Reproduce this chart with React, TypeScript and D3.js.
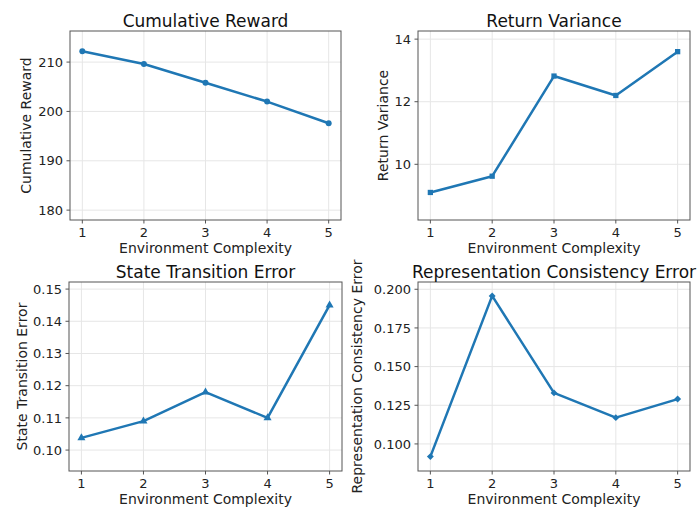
import React from "react";
import * as d3 from "d3";

const complexity = [1, 2, 3, 4, 5];
const cumulativeReward = [212.2, 209.6, 205.8, 202.0, 197.6];
const returnVariance = [9.1, 9.62, 12.82, 12.2, 13.6];
const stateTransitionError = [0.1038, 0.109, 0.118, 0.110, 0.145];
const representationError = [0.0918, 0.1957, 0.133, 0.117, 0.129];

const rewardTicks = [180, 190, 200, 210];
const varianceTicks = [10, 12, 14];
const transitionTicks = [0.1, 0.11, 0.12, 0.13, 0.14, 0.15];
const reprTicks = [0.1, 0.125, 0.15, 0.175, 0.2];

const FONT = "DejaVu Sans, sans-serif";
const BLUE = "#1f77b4";

type PanelProps = {
  left: number; top: number; right: number; bottom: number;
  title: string; ylabel: string; ylabelX: number;
  values: number[]; yDomain: [number, number]; yTicks: number[];
  fmt: (v: number) => string; marker: "circle" | "square" | "triangle" | "diamond";
};

function Panel(p: PanelProps) {
  const x = d3.scaleLinear().domain([0.8, 5.2]).range([p.left, p.right]);
  const y = d3.scaleLinear().domain(p.yDomain).range([p.bottom, p.top]);
  const line = d3.line<number>().x((_, i) => x(complexity[i])).y((v) => y(v));
  const symType =
    p.marker === "circle" ? d3.symbolCircle :
    p.marker === "triangle" ? d3.symbolTriangle : d3.symbolSquare;
  const sym = d3.symbol().type(symType).size(p.marker === "diamond" ? 24 : 28)();
  const rot = p.marker === "diamond" ? " rotate(45)" : "";
  const cx = (p.left + p.right) / 2;
  const cy = (p.top + p.bottom) / 2;
  return (
    <g>
      {complexity.map((c) => (
        <line key={"gx" + c} x1={x(c)} x2={x(c)} y1={p.top} y2={p.bottom} stroke="#e6e6e6" strokeWidth={1} />
      ))}
      {p.yTicks.map((t) => (
        <line key={"gy" + t} x1={p.left} x2={p.right} y1={y(t)} y2={y(t)} stroke="#e6e6e6" strokeWidth={1} />
      ))}
      <path d={line(p.values) || ""} fill="none" stroke={BLUE} strokeWidth={2.5} strokeLinejoin="round" />
      {p.values.map((v, i) => (
        <path key={"m" + i} d={sym || ""} transform={`translate(${x(complexity[i])},${y(v)})${rot}`} fill={BLUE} />
      ))}
      <rect x={p.left} y={p.top} width={p.right - p.left} height={p.bottom - p.top} fill="none" stroke="#555" strokeWidth={1} />
      {complexity.map((c) => (
        <g key={"tx" + c}>
          <line x1={x(c)} x2={x(c)} y1={p.bottom} y2={p.bottom + 3.5} stroke="#555" />
          <text x={x(c)} y={p.bottom + 17} textAnchor="middle" fontSize={13} fontFamily={FONT} fill="#222">{c}</text>
        </g>
      ))}
      {p.yTicks.map((t) => (
        <g key={"ty" + t}>
          <line x1={p.left - 3.5} x2={p.left} y1={y(t)} y2={y(t)} stroke="#555" />
          <text x={p.left - 7} y={y(t)} dy="0.36em" textAnchor="end" fontSize={13} fontFamily={FONT} fill="#222">{p.fmt(t)}</text>
        </g>
      ))}
      <text x={cx} y={p.top - 4} textAnchor="middle" fontSize={17} fontFamily={FONT} fill="#111">{p.title}</text>
      <text x={cx} y={p.bottom + 33} textAnchor="middle" fontSize={14} fontFamily={FONT} fill="#222">Environment Complexity</text>
      <text transform={`translate(${p.ylabelX},${cy}) rotate(-90)`} textAnchor="middle" fontSize={14} fontFamily={FONT} fill="#222">{p.ylabel}</text>
    </g>
  );
}

export default function App() {
  return (
    <svg width={699} height={507} style={{ position: "absolute", left: 0, top: 0, background: "#fff" }}>
      <rect width={699} height={507} fill="#fff" />
      <Panel left={70} top={31} right={341} bottom={220} title="Cumulative Reward" ylabel="Cumulative Reward" ylabelX={31}
        values={cumulativeReward} yDomain={[178, 216.3]} yTicks={rewardTicks} fmt={(v) => String(v)} marker="circle" />
      <Panel left={418} top={31} right={690} bottom={220} title="Return Variance" ylabel="Return Variance" ylabelX={388}
        values={returnVariance} yDomain={[8.22, 14.26]} yTicks={varianceTicks} fmt={(v) => String(v)} marker="square" />
      <Panel left={69} top={282} right={342} bottom={471} title="State Transition Error" ylabel="State Transition Error" ylabelX={26.5}
        values={stateTransitionError} yDomain={[0.0935, 0.1522]} yTicks={transitionTicks} fmt={d3.format(".2f")} marker="triangle" />
      <Panel left={418} top={282} right={690} bottom={471} title="Representation Consistency Error" ylabel="Representation Consistency Error" ylabelX={362}
        values={representationError} yDomain={[0.0825, 0.2047]} yTicks={reprTicks} fmt={d3.format(".3f")} marker="diamond" />
    </svg>
  );
}
